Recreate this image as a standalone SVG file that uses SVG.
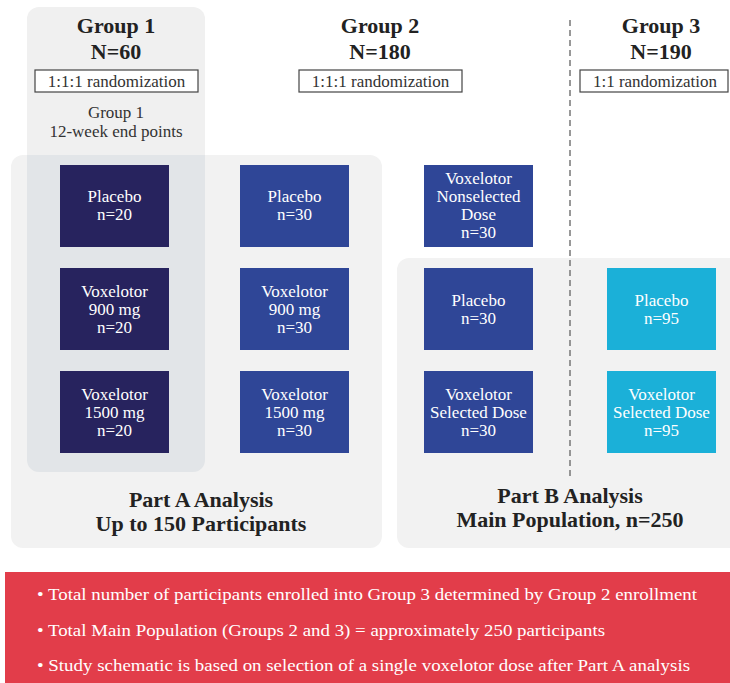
<svg xmlns="http://www.w3.org/2000/svg" width="730" height="683" viewBox="0 0 730 683" font-family="'Liberation Serif', 'DejaVu Serif', serif">
<style>
text{font-family:'Liberation Serif','DejaVu Serif',serif;}
.hd{font-size:22px;font-weight:bold;fill:#222;text-anchor:middle;}
.rz{font-size:17px;fill:#333;text-anchor:middle;}
.rb{fill:#fff;stroke:#444;stroke-width:1.2;}
.bx{font-size:17px;fill:#fff;text-anchor:middle;}
.g1{fill:#27235e;}
.g2{fill:#2f4697;}
.g3{fill:#1bb0d8;}
.pt{font-size:22px;font-weight:bold;fill:#222;text-anchor:middle;}
.bl{font-size:17px;fill:#fff;}
</style>
<rect width="730" height="683" fill="#ffffff"/>
<g id="panels">
<rect x="27" y="7" width="178" height="465" rx="12" fill="#f0f0f0"/>
<rect x="11" y="155" width="371" height="393" rx="12" fill="#f2f2f2"/>
<path d="M27 155 H205 V460 A12 12 0 0 1 193 472 H39 A12 12 0 0 1 27 460 Z" fill="#e2e5e8"/>
<rect x="397" y="258" width="345" height="290" rx="12" fill="#f2f2f2"/>
</g>
<g id="connectors">
<line x1="570" y1="20" x2="570" y2="478" stroke="#777" stroke-width="1.5" stroke-dasharray="6,4"/>
</g>
<g id="group1-header">
<text class="hd" x="116" y="33">Group 1</text>
<text class="hd" x="116" y="59">N=60</text>
<rect class="rb" x="35" y="70" width="163" height="22"/>
<text class="rz" x="116.5" y="87">1:1:1 randomization</text>
<text class="rz" x="116" y="118">Group 1</text>
<text class="rz" x="116" y="137">12-week end points</text>
</g>
<g id="group2-header">
<text class="hd" x="380" y="33">Group 2</text>
<text class="hd" x="380" y="59">N=180</text>
<rect class="rb" x="299" y="70" width="163" height="22"/>
<text class="rz" x="380.5" y="87">1:1:1 randomization</text>
</g>
<g id="group3-header">
<text class="hd" x="661" y="33">Group 3</text>
<text class="hd" x="661" y="59">N=190</text>
<rect class="rb" x="580" y="70" width="148" height="22"/>
<text class="rz" x="655" y="87">1:1 randomization</text>
</g>
<g id="g1-placebo">
<rect class="g1" x="60" y="165" width="109" height="82"/>
<text class="bx" x="114.5" y="202">Placebo</text>
<text class="bx" x="114.5" y="220">n=20</text>
</g>
<g id="g1-900">
<rect class="g1" x="60" y="268" width="109" height="82"/>
<text class="bx" x="114.5" y="297">Voxelotor</text>
<text class="bx" x="114.5" y="315">900 mg</text>
<text class="bx" x="114.5" y="333">n=20</text>
</g>
<g id="g1-1500">
<rect class="g1" x="60" y="371" width="109" height="82"/>
<text class="bx" x="114.5" y="400">Voxelotor</text>
<text class="bx" x="114.5" y="418">1500 mg</text>
<text class="bx" x="114.5" y="436">n=20</text>
</g>
<g id="g2-placebo">
<rect class="g2" x="240" y="165" width="109" height="82"/>
<text class="bx" x="294.5" y="202">Placebo</text>
<text class="bx" x="294.5" y="220">n=30</text>
</g>
<g id="g2-900">
<rect class="g2" x="240" y="268" width="109" height="82"/>
<text class="bx" x="294.5" y="297">Voxelotor</text>
<text class="bx" x="294.5" y="315">900 mg</text>
<text class="bx" x="294.5" y="333">n=30</text>
</g>
<g id="g2-1500">
<rect class="g2" x="240" y="371" width="109" height="82"/>
<text class="bx" x="294.5" y="400">Voxelotor</text>
<text class="bx" x="294.5" y="418">1500 mg</text>
<text class="bx" x="294.5" y="436">n=30</text>
</g>
<g id="g2-nonselected">
<rect class="g2" x="424" y="165" width="109" height="82"/>
<text class="bx" x="478.5" y="184">Voxelotor</text>
<text class="bx" x="478.5" y="202">Nonselected</text>
<text class="bx" x="478.5" y="220">Dose</text>
<text class="bx" x="478.5" y="238">n=30</text>
</g>
<g id="g2b-placebo">
<rect class="g2" x="424" y="268" width="109" height="82"/>
<text class="bx" x="478.5" y="306">Placebo</text>
<text class="bx" x="478.5" y="324">n=30</text>
</g>
<g id="g2b-selected">
<rect class="g2" x="424" y="371" width="109" height="82"/>
<text class="bx" x="478.5" y="400">Voxelotor</text>
<text class="bx" x="478.5" y="418">Selected Dose</text>
<text class="bx" x="478.5" y="436">n=30</text>
</g>
<g id="g3-placebo">
<rect class="g3" x="607" y="268" width="109" height="82"/>
<text class="bx" x="661.5" y="306">Placebo</text>
<text class="bx" x="661.5" y="324">n=95</text>
</g>
<g id="g3-selected">
<rect class="g3" x="607" y="371" width="109" height="82"/>
<text class="bx" x="661.5" y="400">Voxelotor</text>
<text class="bx" x="661.5" y="418">Selected Dose</text>
<text class="bx" x="661.5" y="436">n=95</text>
</g>
<g id="partA-label">
<text class="pt" x="201" y="507">Part A Analysis</text>
<text class="pt" x="201" y="531">Up to 150 Participants</text>
</g>
<g id="partB-label">
<text class="pt" x="570" y="503">Part B Analysis</text>
<text class="pt" x="570" y="527">Main Population, n=250</text>
</g>
<g id="notes">
<rect x="5" y="572" width="725" height="111" fill="#e23d4a"/>
<text class="bl" x="37" y="600" textLength="660" lengthAdjust="spacingAndGlyphs">• Total number of participants enrolled into Group 3 determined by Group 2 enrollment</text>
<text class="bl" x="37" y="636" textLength="568" lengthAdjust="spacingAndGlyphs">• Total Main Population (Groups 2 and 3) = approximately 250 participants</text>
<text class="bl" x="37" y="671" textLength="653" lengthAdjust="spacingAndGlyphs">• Study schematic is based on selection of a single voxelotor dose after Part A analysis</text>
</g>
</svg>
